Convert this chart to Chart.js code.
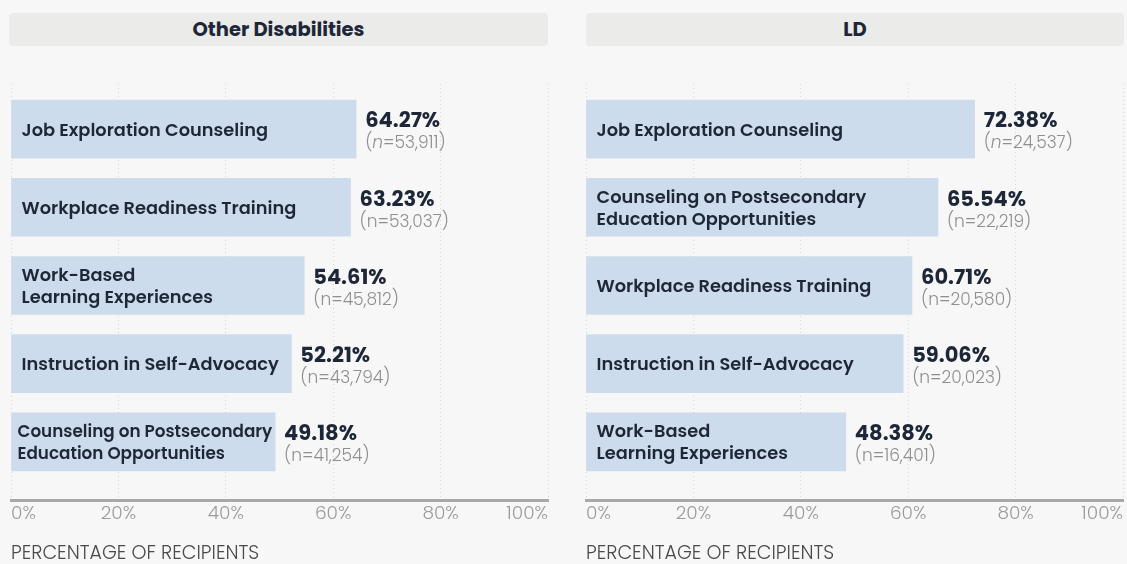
<!DOCTYPE html>
<html>
<head>
<meta charset="utf-8">
<script src="https://cdn.jsdelivr.net/npm/chart.js@4.4.1/dist/chart.umd.min.js"></script>
<style>
  body { margin: 0; background: #f7f7f7; font-family: 'Poppins', 'Open Sans', sans-serif; }
  #wrap { position: relative; width: 1127px; height: 564px; overflow: hidden; }
  .head { position: absolute; top: 13px; height: 33px; line-height: 33px; background: #ebebe9;
          border-radius: 4px; text-align: center; font-weight: 700; font-size: 19.5px; color: #1e2738; }
  .box { position: absolute; top: 0; height: 566px; }
</style>
</head>
<body>
<div id="wrap">
  <div class="head" style="left:9px;width:539px">Other Disabilities</div>
  <div class="head" style="left:586px;width:538px">LD</div>
  <div class="box" style="left:0;width:563px"><canvas id="chartOther"></canvas></div>
  <div class="box" style="left:575px;width:552px"><canvas id="chartLd"></canvas></div>
</div>
<script>
const gFont = "'Poppins', 'Open Sans', sans-serif"
const gTicks = [0, 20, 40, 60, 80, 100]

// Other Disabilities
const gOtherLabels = [
  ['Job Exploration Counseling'],
  ['Workplace Readiness Training'],
  ['Work-Based', 'Learning Experiences'],
  ['Instruction in Self-Advocacy'],
  ['Counseling on Postsecondary', 'Education Opportunities']
]
const gOtherPct = [64.27, 63.23, 54.61, 52.21, 49.18]
const gOtherN = ['53,911', '53,037', '45,812', '43,794', '41,254']

// LD
const gLdLabels = [
  ['Job Exploration Counseling'],
  ['Counseling on Postsecondary', 'Education Opportunities'],
  ['Workplace Readiness Training'],
  ['Instruction in Self-Advocacy'],
  ['Work-Based', 'Learning Experiences']
]
const gLdPct = [72.38, 65.54, 60.71, 59.06, 48.38]
const gLdN = ['24,537', '22,219', '20,580', '20,023', '16,401']

// draws the category name inside each bar and the value + n to its right
const barLabelPlugin = {
  id: 'barLabels',
  afterDatasetsDraw(chart, args, opts) {
    const ctx = chart.ctx
    const meta = chart.getDatasetMeta(0)
    meta.data.forEach((bar, i) => {
      const lines = opts.labels[i]
      const barW = bar.x - bar.base
      const cy = bar.y + 2
      ctx.save()
      ctx.fillStyle = '#1e2738'
      ctx.textBaseline = 'middle'
      ctx.textAlign = 'left'
      let size = 17.8
      let pad = 10
      ctx.font = `600 ${size}px ${gFont}`
      const widest = Math.max(...lines.map(l => ctx.measureText(l).width))
      if (widest > barW - 2 * pad) {
        pad = 6
        size = size * (barW - 9) / widest
        ctx.font = `600 ${size}px ${gFont}`
      }
      const lh = 22
      lines.forEach((line, k) => {
        const off = (k - (lines.length - 1) / 2) * lh
        ctx.fillText(line, bar.base + pad, cy + off)
      })

      // value
      const vx = bar.x + 9
      ctx.font = `700 21px ${gFont}`
      ctx.fillText(opts.pct[i].toFixed(2) + '%', vx, cy - 9)

      // (n=...)
      ctx.fillStyle = '#8f8f8f'
      let x = vx
      const parts = i === 0 ? ['(', 'n', '=' + opts.n[i] + ')'] : ['(n=' + opts.n[i] + ')']
      parts.forEach((p, k) => {
        ctx.font = (i === 0 && k === 1 ? 'italic ' : '') + `300 17px ${gFont}`
        ctx.fillText(p, x, cy + 13)
        x += ctx.measureText(p).width
      })
      ctx.restore()
    })
  }
}

function makeChart(id, labels, pct, n, padRight) {
  const ctx = document.getElementById(id).getContext('2d')
  const points = pct.map((v, i) => ({ x: v, y: i }))
  return new Chart(ctx, {
    type: 'bar',
    data: {
      datasets: [{
        data: points,
        backgroundColor: '#cddcec',
        barThickness: 58,
        borderWidth: 0
      }]
    },
    options: {
      responsive: false,
      animation: false,
      indexAxis: 'y',
      layout: { padding: { left: 11, right: padRight, top: 84, bottom: 0 } },
      scales: {
        y: {
          type: 'linear',
          reverse: true,
          offset: false,
          grid: { offset: false },
          min: -0.577,
          max: 4.744,
          display: false
        },
        x: {
          type: 'linear',
          min: 0,
          max: 100,
          afterBuildTicks: (axis) => { axis.ticks = gTicks.map(v => ({ value: v })) },
          grid: { color: '#d6d6d6', lineWidth: 1, drawTicks: false },
          border: { color: '#a8a8a8', width: 3, dash: [1, 3] },
          ticks: {
            align: 'inner',
            padding: 3,
            color: '#9a9a9a',
            font: { family: gFont, size: 18.5, weight: 300 },
            callback: (v) => v + '%'
          },
          title: {
            display: true,
            text: 'PERCENTAGE OF RECIPIENTS',
            align: 'start',
            color: '#4a4a4a',
            padding: { top: 15, bottom: 0 },
            font: { family: gFont, size: 19, weight: 300 }
          }
        }
      },
      plugins: {
        legend: { display: false },
        tooltip: { enabled: false },
        barLabels: { labels: labels, pct: pct, n: n }
      }
    },
    plugins: [barLabelPlugin]
  })
}

const cOther = document.getElementById('chartOther')
cOther.width = 563; cOther.height = 566
const cLd = document.getElementById('chartLd')
cLd.width = 552; cLd.height = 566

makeChart('chartOther', gOtherLabels, gOtherPct, gOtherN, 15)
makeChart('chartLd', gLdLabels, gLdPct, gLdN, 4)
</script>
</body>
</html>
